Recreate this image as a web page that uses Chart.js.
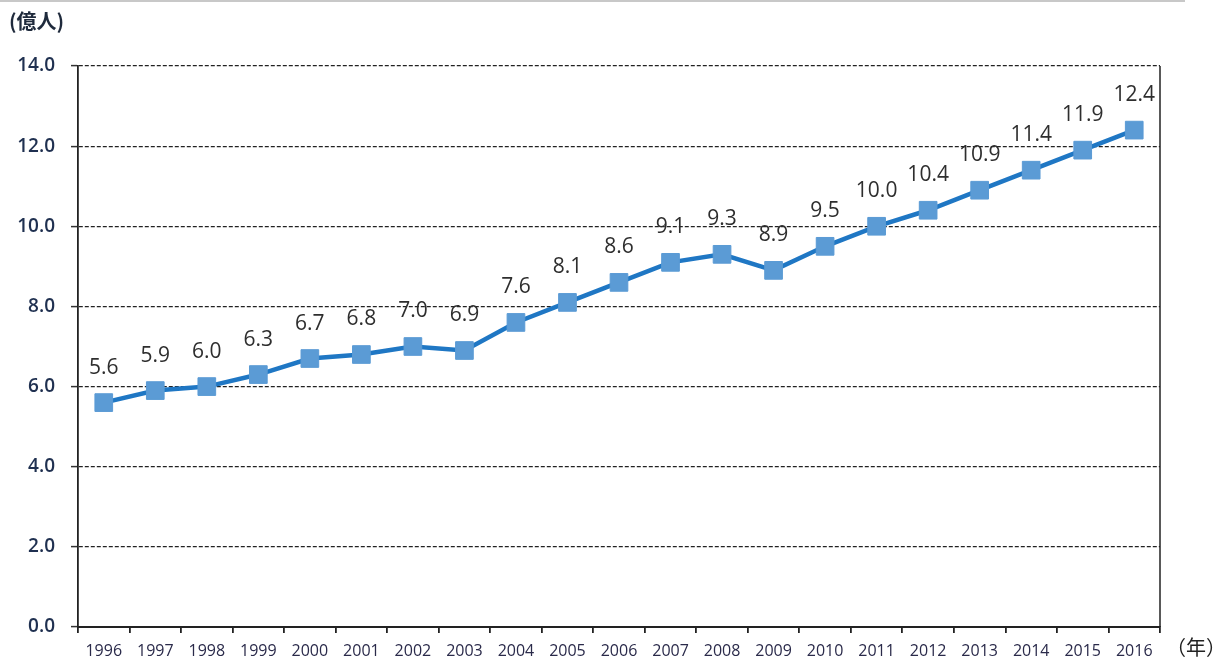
<!DOCTYPE html>
<html>
<head>
<meta charset="utf-8">
<script src="https://cdn.jsdelivr.net/npm/chart.js@4/dist/chart.umd.min.js"></script>
<style>
html,body{margin:0;padding:0;background:#fff;}
#wrap{position:relative;width:1223px;height:663px;}
#topline{position:absolute;left:0;top:0;width:1185px;height:2px;background:#c8c8c8;}
#unit{position:absolute;left:9px;top:6px;font-family:"Noto Sans CJK JP",sans-serif;font-size:20px;font-weight:bold;color:#1f2a3c;}
#nen{position:absolute;left:1166px;top:632px;font-family:"Noto Sans CJK JP",sans-serif;font-size:20px;color:#222;}
</style>
</head>
<body>
<div id="wrap">
<div id="topline"></div>
<canvas id="c" width="1223" height="663"></canvas>
<div id="unit">(億人)</div>
<div id="nen">（年）</div>
</div>
<script>
const years = ["1996","1997","1998","1999","2000","2001","2002","2003","2004","2005","2006","2007","2008","2009","2010","2011","2012","2013","2014","2015","2016"];
const users = [5.6,5.9,6.0,6.3,6.7,6.8,7.0,6.9,7.6,8.1,8.6,9.1,9.3,8.9,9.5,10.0,10.4,10.9,11.4,11.9,12.4];
const yTicks = [0,2,4,6,8,10,12,14];

const labelPlugin = {
  id:'labels',
  afterDatasetsDraw(chart){
    const ctx = chart.ctx;
    const meta = chart.getDatasetMeta(0);
    ctx.save();
    ctx.font = '21px "Open Sans", sans-serif';
    ctx.fillStyle = '#2e2e2e';
    ctx.textAlign = 'center';
    ctx.textBaseline = 'middle';
    meta.data.forEach((p,i)=>{
      ctx.fillText(users[i].toFixed(1), p.x, p.y - 35);
    });
    ctx.restore();
  },
  afterDraw(chart){
    const {ctx, chartArea} = chart;
    ctx.save();
    ctx.strokeStyle = '#222';
    ctx.lineWidth = 1.5;
    ctx.beginPath();
    ctx.moveTo(chartArea.right, chartArea.top);
    ctx.lineTo(chartArea.right, chartArea.bottom);
    ctx.stroke();
    ctx.restore();
  }
};

new Chart(document.getElementById('c'), {
  type:'line',
  data:{
    labels: years,
    datasets:[{
      data: users,
      borderColor:'#1f77c4',
      borderWidth:4.5,
      pointStyle:'rect',
      pointRadius:12.5,
      pointHoverRadius:12.5,
      pointBackgroundColor:'#5b9bd5',
      pointBorderColor:'#5b9bd5',
      pointBorderWidth:1,
      tension:0,
      fill:false
    }]
  },
  options:{
    responsive:false,
    animation:false,
    events:[],
    layout:{padding:{top:66,right:63,left:0,bottom:0}},
    plugins:{legend:{display:false},tooltip:{enabled:false}},
    scales:{
      x:{
        offset:true,
        grid:{offset:true,drawOnChartArea:false,drawTicks:true,tickLength:6,color:'#222',lineWidth:1.8},
        border:{display:true,color:'#222',width:2},
        ticks:{font:{family:'"Open Sans", sans-serif',size:16},color:'#2a2a4a',padding:9,maxRotation:0,autoSkip:false},
        afterFit(s){ s.height = 36; }
      },
      y:{
        min:0,max:14,
        afterBuildTicks(s){ s.ticks = yTicks.map(v=>({value:v})); },
        grid:{color:'#222',lineWidth:1.2,tickLength:7,tickColor:'#333',tickWidth:1.5},
        border:{display:true,color:'#222',width:1.8,dash:[4,2]},
        ticks:{font:{family:'"Open Sans", sans-serif',size:19,weight:'600'},color:'#1f3050',padding:16,callback:v=>Number(v).toFixed(1)},
        afterFit(s){ s.width = 78; }
      }
    }
  },
  plugins:[labelPlugin]
});
</script>
</body>
</html>
